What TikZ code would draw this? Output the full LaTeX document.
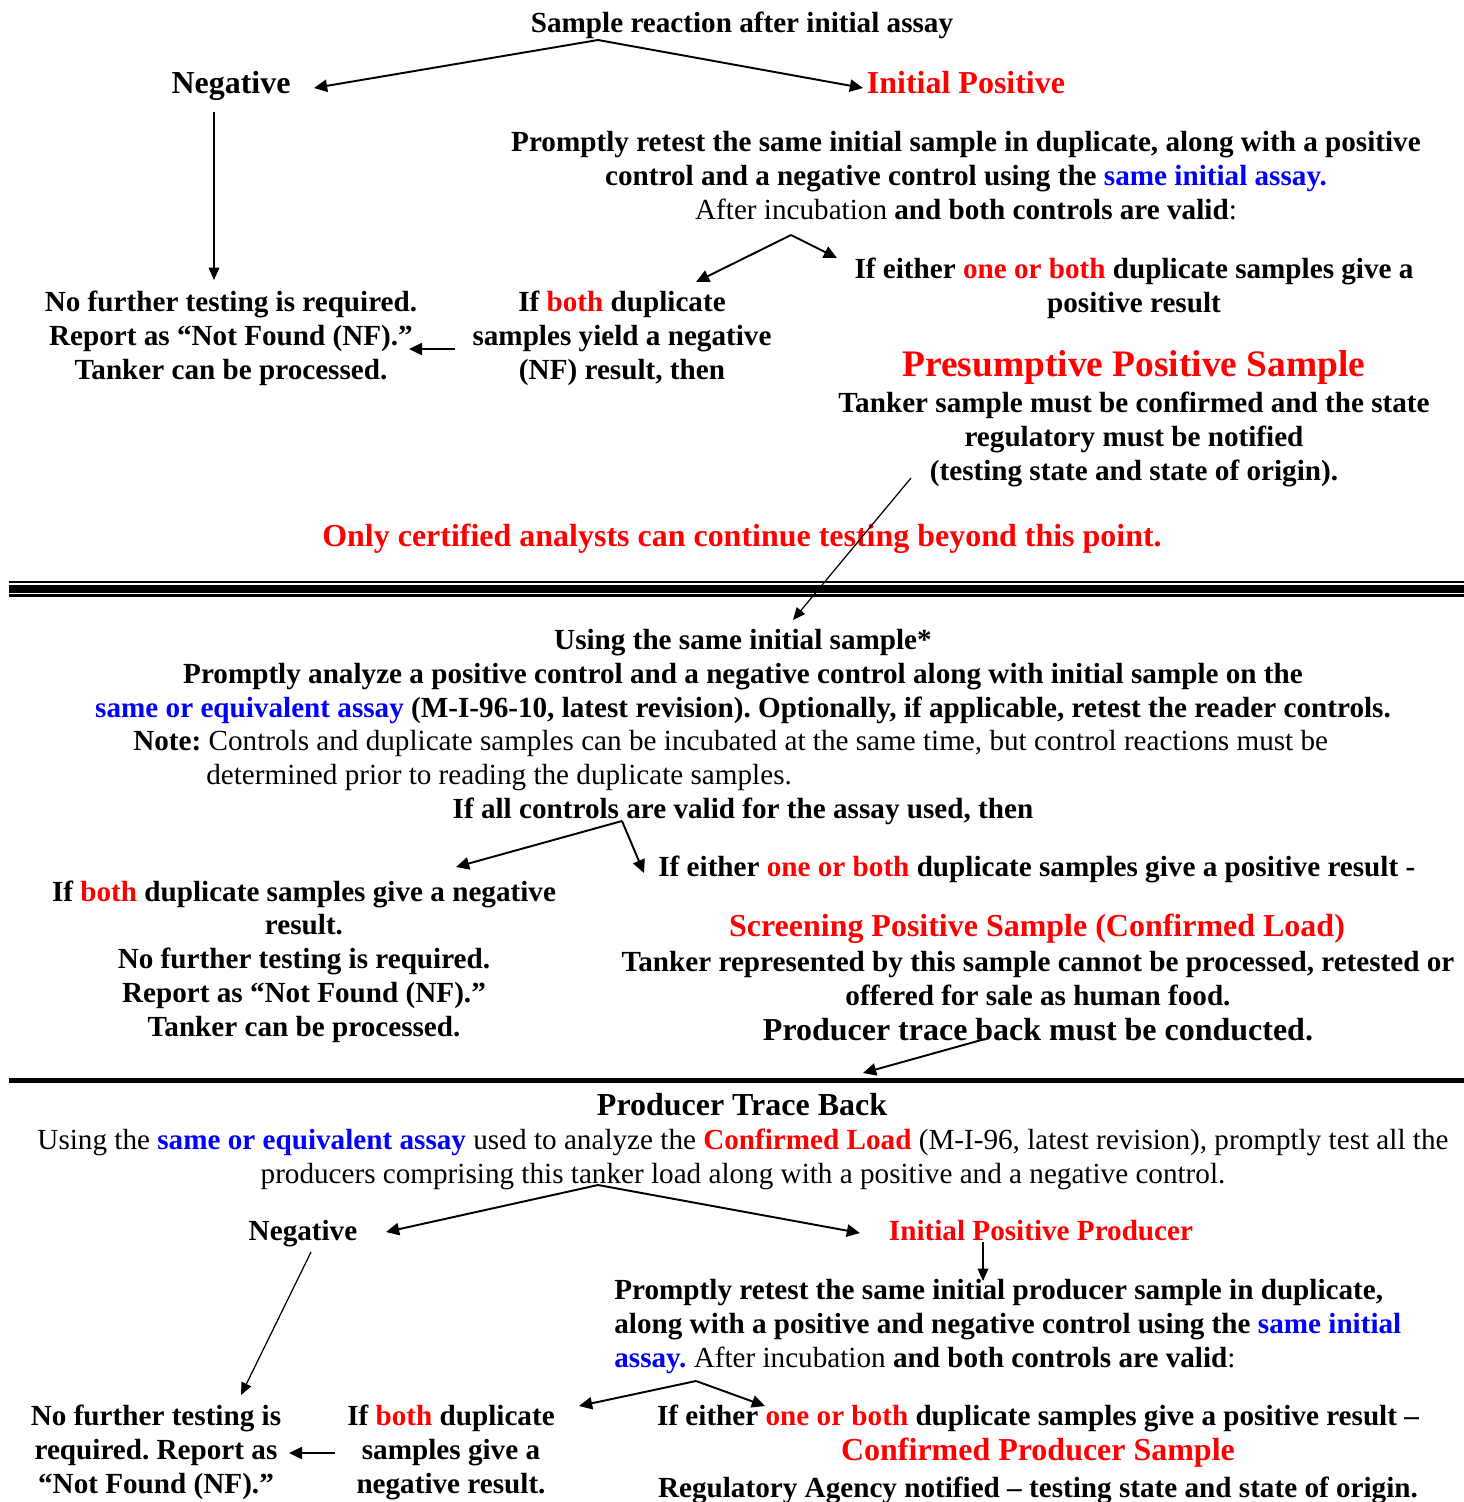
\documentclass[tikz,border=0pt]{standalone}
\usepackage{fontspec}
\setmainfont{Liberation Serif}
\usetikzlibrary{arrows.meta}

\definecolor{alertred}{RGB}{255,0,0}
\definecolor{assayblue}{RGB}{0,0,255}
\newcommand{\rtxt}[1]{\textcolor{alertred}{#1}}
\newcommand{\btxt}[1]{\textcolor{assayblue}{#1}}
\frenchspacing

\begin{document}
\begin{tikzpicture}[x=0.02cm, y=-0.02cm,
    txt/.style={font=\bfseries\fontsize{16.6}{19.2}\selectfont, align=center,
                anchor=base, inner sep=0pt},
    plaintxt/.style={txt, font=\mdseries\fontsize{16.6}{19.2}\selectfont},
    bigtxt/.style={txt, font=\bfseries\fontsize{18.2}{21}\selectfont},
    headtxt/.style={txt, font=\bfseries\fontsize{21.3}{25}\selectfont, text=alertred},
    arrow/.style={-{Triangle[length=7.5pt, width=7pt]}, line width=1.1pt},
    thinarrow/.style={-{Triangle[length=7pt, width=6pt]}, line width=0.7pt}
]
    \useasboundingbox (0,0) rectangle (1464,1502);

    % Initial assay
    \node[txt] (title) at (742, 32) {Sample reaction after initial assay};
    \node[bigtxt] (neg) at (231, 93) {Negative};
    \node[bigtxt, text=alertred] (ipos) at (966, 93) {Initial Positive};

    % Retest in duplicate (base = last line)
    \node[txt] (retest) at (966, 219) {Promptly retest the same initial sample in duplicate, along with a positive\\
        control and a negative control using the \btxt{same initial assay.}\\
        {\mdseries After incubation} and both controls are valid{\mdseries :}};
    \node[txt] (either) at (1134, 312) {If either \rtxt{one or both} duplicate samples give a\\positive result};
    \node[txt] (nofurther) at (231, 379) {No further testing is required.\\Report as “Not Found (NF).”\\Tanker can be processed.};
    \node[txt] (bothneg) at (622, 379) {If \rtxt{both} duplicate\\samples yield a negative\\(NF) result, then};

    % Presumptive positive
    \node[headtxt] (presum) at (1134, 376) {Presumptive Positive Sample};
    \node[txt] (confirm) at (1134, 480) {Tanker sample must be confirmed and the state\\regulatory must be notified\\(testing state and state of origin).};
    \node[bigtxt, text=alertred] (certified) at (742, 546) {Only certified analysts can continue testing beyond this point.};

    % Arrows
    \coordinate (split1) at (598, 40);
    \coordinate (negtip) at (314, 88);
    \coordinate (postip) at (863, 88);
    \coordinate (negfoot) at (214, 112);
    \coordinate (nftip) at (214, 280);
    \coordinate (split2) at (791, 235);
    \coordinate (bothtip) at (696, 282);
    \coordinate (eithertip) at (837, 258);
    \coordinate (nfstart) at (455, 349);
    \coordinate (nfend) at (409, 349);
    \coordinate (presfoot) at (911, 478);
    \coordinate (usingtip) at (793, 620);
    \draw[arrow] (split1) -- (negtip);
    \draw[arrow] (split1) -- (postip);
    \draw[thinarrow] (negfoot) -- (nftip);
    \draw[arrow] (split2) -- (bothtip);
    \draw[arrow] (split2) -- (eithertip);
    \draw[arrow] (nfstart) -- (nfend);

    % Divider
    \draw[line width=1.3pt] (9, 582) -- (1464, 582);
    \draw[line width=4.3pt] (9, 589) -- (1464, 589);
    \draw[line width=1.3pt] (9, 595.5) -- (1464, 595.5);
    \draw[thinarrow] (presfoot) -- (usingtip);

    % Confirmation assay
    \node[txt] (using) at (743, 717) {Using the same initial sample*\\
        Promptly analyze a positive control and a negative control along with initial sample on the\\
        \btxt{same or equivalent assay} (M-I-96-10, latest revision). Optionally, if applicable, retest the reader controls.};
    \node[txt, align=left, anchor=base west] (note) at (133, 784) {Note: {\mdseries Controls and duplicate samples can be incubated at the same time, but control reactions must be}\\
        \hspace*{41.5pt}{\mdseries determined prior to reading the duplicate samples.}};
    \node[txt] (valid) at (743, 818) {If all controls are valid for the assay used, then};
    \node[txt, anchor=base west] (either2) at (658, 876) {If either \rtxt{one or both} duplicate samples give a positive result -};
    \node[txt] (bothneg2) at (304, 1036) {If \rtxt{both} duplicate samples give a negative\\result.\\No further testing is required.\\Report as “Not Found (NF).”\\Tanker can be processed.};
    \node[bigtxt, text=alertred] (screen) at (1037, 936) {Screening Positive Sample (Confirmed Load)};
    \node[txt] (tanker) at (1038, 1005) {Tanker represented by this sample cannot be processed, retested or\\offered for sale as human food.};
    \node[bigtxt] (trace) at (1038, 1040) {Producer trace back must be conducted.};

    \coordinate (split3) at (622, 821);
    \coordinate (both2tip) at (456, 867);
    \coordinate (either2tip) at (644, 873);
    \coordinate (tracefoot) at (985, 1039);
    \coordinate (ptbtip) at (863, 1073);
    \draw[arrow] (split3) -- (both2tip);
    \draw[arrow] (split3) -- (either2tip);
    \draw[arrow] (tracefoot) -- (ptbtip);

    % Divider
    \draw[line width=2.9pt] (9, 1080.5) -- (1464, 1080.5);

    % Producer trace back
    \node[bigtxt] (ptb) at (742, 1115) {Producer Trace Back};
    \node[plaintxt] (usingeq) at (743, 1183) {Using the \textbf{\btxt{same or equivalent assay}} used to analyze the \textbf{\rtxt{Confirmed Load}} (M-I-96, latest revision), promptly test all the\\
        producers comprising this tanker load along with a positive and a negative control.};
    \node[txt] (neg3) at (303, 1240) {Negative};
    \node[txt, text=alertred] (ipp) at (1041, 1240) {Initial Positive Producer};
    \node[txt, align=left, anchor=base west] (retest2) at (614, 1367) {Promptly retest the same initial producer sample in duplicate,\\
        along with a positive and negative control using the \btxt{same initial}\\
        \btxt{assay.} {\mdseries After incubation} and both controls are valid{\mdseries :}};
    \node[txt] (nofurther3) at (156, 1493) {No further testing is\\required. Report as\\“Not Found (NF).”};
    \node[txt] (bothneg3) at (451, 1493) {If \rtxt{both} duplicate\\samples give a\\negative result.};
    \node[txt] (either3) at (1038, 1425) {If either \rtxt{one or both} duplicate samples give a positive result –};
    \node[bigtxt, text=alertred] (cps) at (1038, 1460) {Confirmed Producer Sample};
    \node[txt] (agency) at (1038, 1497) {Regulatory Agency notified – testing state and state of origin.};

    \coordinate (split4) at (598, 1185);
    \coordinate (neg3tip) at (386, 1232);
    \coordinate (ipptip) at (860, 1233);
    \coordinate (ippfoot) at (983, 1242);
    \coordinate (retest2tip) at (983, 1281);
    \coordinate (neg3foot) at (311, 1252);
    \coordinate (nf3tip) at (241, 1395);
    \coordinate (split5) at (696, 1381);
    \coordinate (both3tip) at (579, 1406);
    \coordinate (either3tip) at (765, 1406);
    \coordinate (nf3start) at (335, 1453);
    \coordinate (nf3end) at (289, 1453);
    \draw[arrow] (split4) -- (neg3tip);
    \draw[arrow] (split4) -- (ipptip);
    \draw[thinarrow] (ippfoot) -- (retest2tip);
    \draw[thinarrow] (neg3foot) -- (nf3tip);
    \draw[arrow] (split5) -- (both3tip);
    \draw[arrow] (split5) -- (either3tip);
    \draw[arrow] (nf3start) -- (nf3end);

\end{tikzpicture}
\end{document}
